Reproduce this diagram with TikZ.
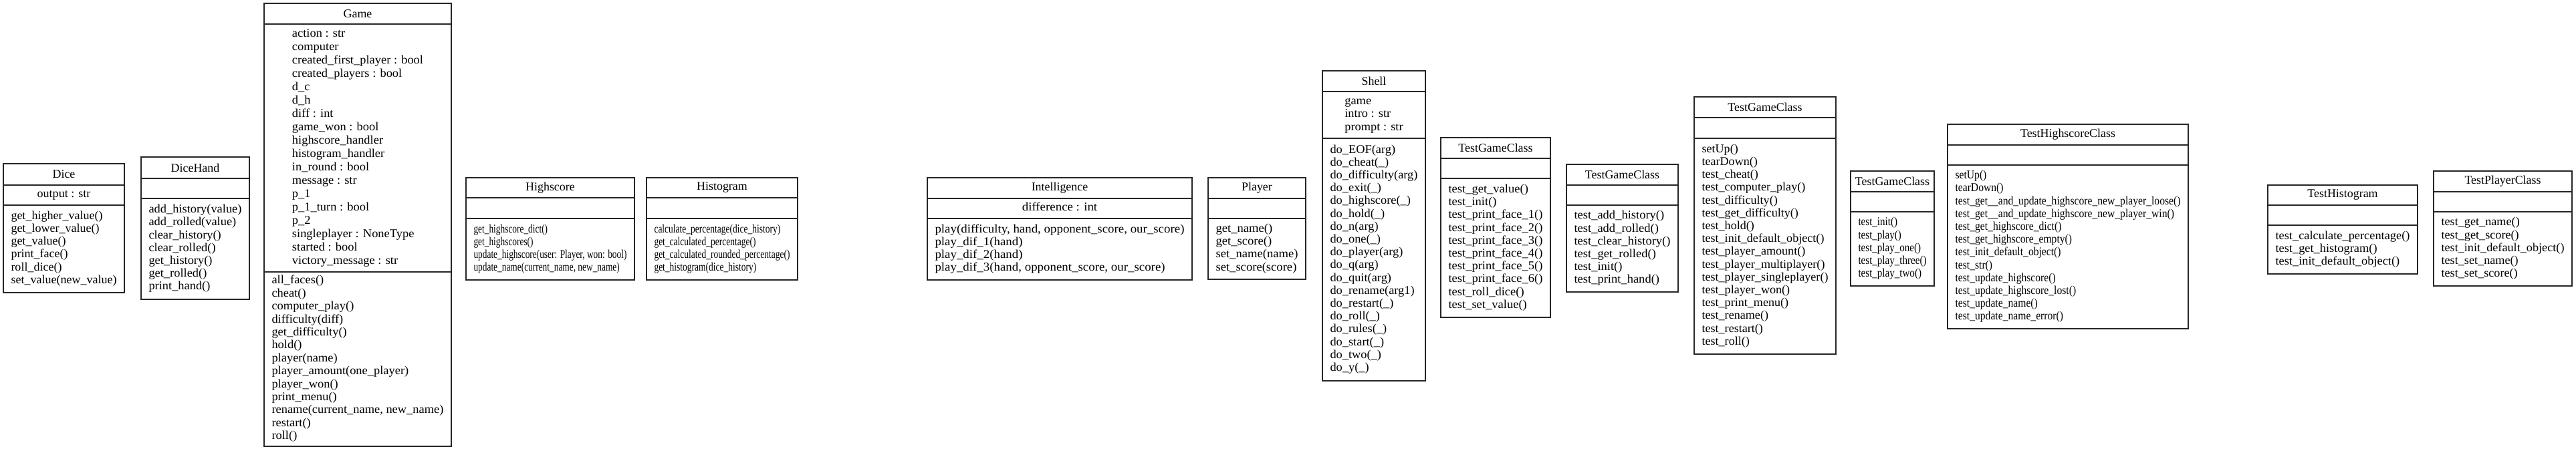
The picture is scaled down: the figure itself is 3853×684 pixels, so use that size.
\documentclass[tikz,border=0pt]{standalone}
\usepackage{fontspec}
\usepackage{graphicx}
\setmainfont{Liberation Serif}
\newcommand\umlfont{\fontsize{17.9}{19.2}\selectfont}
\newsavebox\umlsb
\newlength\umlw
\gdef\umlsxg{1}
\tikzset{
  boxline/.style={draw=black!85, line width=1.5pt},
  umltext/.style={font=\umlfont, align=center, inner sep=0pt}
}
% fit a left-aligned block into width #1 (pt), remembering the factor
\newcommand\fitblock[3]{% #1 width, #2 font, #3 lines
  \sbox\umlsb{#2\begin{tabular}{@{}l@{}}#3\end{tabular}}%
  \setlength\umlw{\wd\umlsb}%
  \pgfmathsetmacro\umlsx{#1/\umlw}%
  \global\let\umlsxg\umlsx
  \scalebox{\umlsx}[1]{\usebox\umlsb}}
\newcommand\scaledblock[2]{% #1 font, #2 lines
  \scalebox{\umlsxg}[1]{#1\begin{tabular}{@{}l@{}}#2\end{tabular}}}
% #1 name, #2 left, #3 top, #4 right, #5 sep1, #6 sep2, #7 bottom, #8 title, #9 methods
\newcommand\umlbox[9]{%
  \draw[boxline] (#2,#3) rectangle (#4,#7);
  \draw[boxline] (#2,#5) -- (#4,#5);
  \draw[boxline] (#2,#6) -- (#4,#6);
  \node[umltext] (#1-title) at ({(#2+#4)/2},{(#3+#5)/2}) {#8};
  \coordinate (#1-attrc) at ({(#2+#4)/2},{(#5+#6)/2});
  \coordinate (#1-methc) at ({(#2+#4)/2},{(#6+#7)/2});
  \node[inner sep=0pt] (#1-meth) at (#1-methc) {\fitblock{(#4-#2-23)}{\umlfont}{#9}};
}
\newcommand\umlattr[2]{%
  \node[inner sep=0pt] (#1-attr) at (#1-attrc) {\scaledblock{\umlfont}{#2}};
}
\begin{document}
\begin{tikzpicture}[x=1pt,y=-1pt]
\useasboundingbox[fill=white] (0,0) rectangle (3853,684);

% Dice
\umlbox{dice}{5}{245}{186}{277}{307}{438}{Dice}{get\_higher\_value()\\get\_lower\_value()\\get\_value()\\print\_face()\\roll\_dice()\\set\_value(new\_value)}
\umlattr{dice}{output : str}

% DiceHand
\umlbox{dicehand}{211}{235}{373}{267}{297}{448}{DiceHand}{add\_history(value)\\add\_rolled(value)\\clear\_history()\\clear\_rolled()\\get\_history()\\get\_rolled()\\print\_hand()}

% Game
\draw[boxline] (395,5) rectangle (675,668);
\draw[boxline] (395,36) -- (675,36);
\draw[boxline] (395,407) -- (675,407);
\node[umltext] (game-title) at (535,20.5) {Game};
\node[inner sep=0pt] (game-meth) at (535,537.5) {\fitblock{257}{\fontsize{17.9}{19.4}\selectfont}{all\_faces()\\cheat()\\computer\_play()\\difficulty(diff)\\get\_difficulty()\\hold()\\player(name)\\player\_amount(one\_player)\\player\_won()\\print\_menu()\\rename(current\_name, new\_name)\\restart()\\roll()}};
\node[inner sep=0pt] (game-attr) at (535,221.5) {\scaledblock{\fontsize{17.9}{19.95}\selectfont}{action : str\\computer\\created\_first\_player : bool\\created\_players : bool\\d\_c\\d\_h\\diff : int\\game\_won : bool\\highscore\_handler\\histogram\_handler\\in\_round : bool\\message : str\\p\_1\\p\_1\_turn : bool\\p\_2\\singleplayer : NoneType\\started : bool\\victory\_message : str}};

% Highscore
\umlbox{highscore}{697}{266}{949}{296}{327}{419}{Highscore}{get\_highscore\_dict()\\get\_highscores()\\update\_highscore(user: Player, won: bool)\\update\_name(current\_name, new\_name)}

% Histogram
\umlbox{histogram}{967}{266}{1193}{296}{327}{419}{Histogram}{calculate\_percentage(dice\_history)\\get\_calculated\_percentage()\\get\_calculated\_rounded\_percentage()\\get\_histogram(dice\_history)}

% Intelligence
\umlbox{intel}{1387}{266}{1783}{297}{327}{419}{Intelligence}{play(difficulty, hand, opponent\_score, our\_score)\\play\_dif\_1(hand)\\play\_dif\_2(hand)\\play\_dif\_3(hand, opponent\_score, our\_score)}
\umlattr{intel}{difference : int}

% Player
\umlbox{player}{1807}{266}{1953}{297}{327}{418}{Player}{get\_name()\\get\_score()\\set\_name(name)\\set\_score(score)}

% Shell
\umlbox{shell}{1978}{106}{2132}{137}{207}{570}{Shell}{do\_EOF(arg)\\do\_cheat(\_)\\do\_difficulty(arg)\\do\_exit(\_)\\do\_highscore(\_)\\do\_hold(\_)\\do\_n(arg)\\do\_one(\_)\\do\_player(arg)\\do\_q(arg)\\do\_quit(arg)\\do\_rename(arg1)\\do\_restart(\_)\\do\_roll(\_)\\do\_rules(\_)\\do\_start(\_)\\do\_two(\_)\\do\_y(\_)}
\umlattr{shell}{game\\intro : str\\prompt : str}

% TestGameClass (dice)
\umlbox{tdice}{2155}{206}{2319}{237}{267}{475}{TestGameClass}{test\_get\_value()\\test\_init()\\test\_print\_face\_1()\\test\_print\_face\_2()\\test\_print\_face\_3()\\test\_print\_face\_4()\\test\_print\_face\_5()\\test\_print\_face\_6()\\test\_roll\_dice()\\test\_set\_value()}

% TestGameClass (dicehand)
\umlbox{tdicehand}{2343}{246}{2510}{277}{307}{437}{TestGameClass}{test\_add\_history()\\test\_add\_rolled()\\test\_clear\_history()\\test\_get\_rolled()\\test\_init()\\test\_print\_hand()}

% TestGameClass (game)
\umlbox{tgame}{2534}{145}{2746}{176}{207}{530}{TestGameClass}{setUp()\\tearDown()\\test\_cheat()\\test\_computer\_play()\\test\_difficulty()\\test\_get\_difficulty()\\test\_hold()\\test\_init\_default\_object()\\test\_player\_amount()\\test\_player\_multiplayer()\\test\_player\_singleplayer()\\test\_player\_won()\\test\_print\_menu()\\test\_rename()\\test\_restart()\\test\_roll()}

% TestGameClass (intelligence)
\umlbox{tintel}{2768}{256}{2893}{287}{317}{428}{TestGameClass}{test\_init()\\test\_play()\\test\_play\_one()\\test\_play\_three()\\test\_play\_two()}

% TestHighscoreClass
\umlbox{thighscore}{2913}{186}{3273}{217}{247}{492}{TestHighscoreClass}{setUp()\\tearDown()\\test\_get\_\_and\_update\_highscore\_new\_player\_loose()\\test\_get\_\_and\_update\_highscore\_new\_player\_win()\\test\_get\_highscore\_dict()\\test\_get\_highscore\_empty()\\test\_init\_default\_object()\\test\_str()\\test\_update\_highscore()\\test\_update\_highscore\_lost()\\test\_update\_name()\\test\_update\_name\_error()}

% TestHistogram
\umlbox{thistogram}{3392}{277}{3616}{307}{337}{410}{TestHistogram}{test\_calculate\_percentage()\\test\_get\_histogram()\\test\_init\_default\_object()}

% TestPlayerClass
\umlbox{tplayer}{3640}{256}{3847}{287}{317}{428}{TestPlayerClass}{test\_get\_name()\\test\_get\_score()\\test\_init\_default\_object()\\test\_set\_name()\\test\_set\_score()}
\end{tikzpicture}
\end{document}
